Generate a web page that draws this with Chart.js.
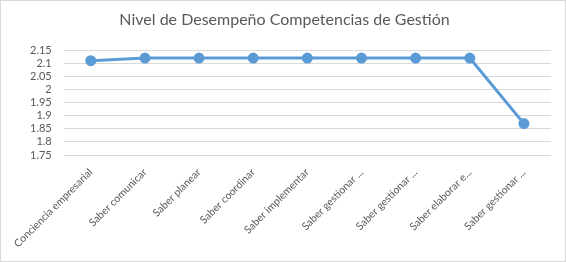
<!DOCTYPE html>
<html>
<head>
<meta charset="utf-8">
<script src="https://cdn.jsdelivr.net/npm/chart.js@4"></script>
<style>
  html, body { margin: 0; padding: 0; background: #fff; }
  #wrap { position: relative; width: 564px; height: 260px; border: 1px solid #d9d9d9; }
</style>
</head>
<body>
<div id="wrap"><canvas id="lineChart"></canvas></div>
<script>
const categories = [
    'Conciencia empresarial',
    'Saber comunicar',
    'Saber planear',
    'Saber coordinar',
    'Saber implementar',
    'Saber gestionar ...',
    'Saber gestionar ...',
    'Saber elaborar e...',
    'Saber gestionar ...'
];
const desempeno = [2.11, 2.12, 2.12, 2.12, 2.12, 2.12, 2.12, 2.12, 1.87];
const yMin = 1.75;
const yMax = 2.15;
const yStep = 0.05;

const grey = '#595959';
const ctx = document.getElementById('lineChart').getContext('2d');
new Chart(ctx, {
    type: 'line',
    data: {
        labels: categories,
        datasets: [{
            label: 'Nivel de Desempeño',
            data: desempeno,
            borderColor: '#5B9BD5',
            backgroundColor: '#5B9BD5',
            borderWidth: 3,
            pointRadius: 4,
            pointHoverRadius: 4,
            tension: 0
        }]
    },
    options: {
        responsive: true,
        maintainAspectRatio: false,
        animation: false,
        layout: { padding: { left: 17, right: 14, top: 4, bottom: 8 } },
        plugins: {
            legend: { display: false },
            tooltip: { enabled: false },
            title: {
                display: true,
                text: 'Nivel de Desempeño Competencias de Gestión',
                color: grey,
                font: { family: 'Lato', size: 16, weight: 'normal' },
                padding: { top: 5, bottom: 21 }
            }
        },
        scales: {
            x: {
                offset: true,
                grid: { display: false },
                border: { display: false },
                ticks: {
                    color: grey,
                    font: { family: 'Lato', size: 10.5 },
                    minRotation: 45,
                    maxRotation: 45,
                    autoSkip: false
                }
            },
            y: {
                min: yMin,
                max: yMax,
                grid: { color: '#d9d9d9', drawTicks: false },
                border: { display: false },
                ticks: {
                    stepSize: yStep,
                    autoSkip: false,
                    color: grey,
                    padding: 12,
                    font: { family: 'Lato', size: 11 },
                    callback: v => String(parseFloat(v.toFixed(2)))
                }
            }
        }
    }
});
</script>
</body>
</html>
